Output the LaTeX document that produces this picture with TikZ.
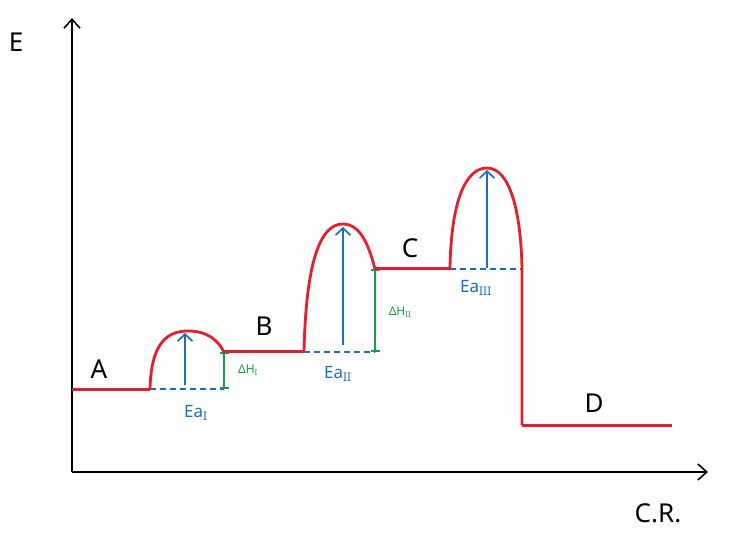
\documentclass[tikz,border=0pt]{standalone}
\usepackage{fontspec}
\setmainfont{Noto Sans}
\usetikzlibrary{arrows.meta}
\definecolor{cred}{RGB}{228,30,45}
\definecolor{cblue}{RGB}{25,110,190}
\definecolor{cgreen}{RGB}{20,160,70}
\tikzset{
  axis/.style={line width=2pt,-{Straight Barb[length=9pt,width=16pt,line width=1.6pt]}},
  level/.style={draw=cred,line width=3pt},
  hump/.style={draw=cred,line width=2.8pt},
  ea/.style={draw=cblue,line width=2pt,-{Straight Barb[length=7pt,width=15pt,line width=1.7pt]}},
  base/.style={draw=cblue,line width=1.5pt,dash pattern=on 6pt off 4pt},
  dh/.style={draw=cgreen,line width=2pt,{Bar[width=9pt]}-{Bar[width=9pt]}},
  lbl/.style={font=\fontsize{26}{28}\selectfont},
  ealbl/.style={text=cblue,font=\fontsize{17}{19}\selectfont},
  dhlbl/.style={text=cgreen,font=\fontsize{12}{14}\selectfont},
}
\begin{document}
\begin{tikzpicture}[x=1pt,y=-1pt]
\useasboundingbox (0,0) rectangle (737,540);
% axes
\coordinate (O) at (72,472);
\coordinate (Ytop) at (72,18);
\coordinate (Xend) at (708,472);
\draw[axis] (O) -- (Ytop);
\draw[axis] (O) -- (Xend);
\node[lbl] (E) at (16,42) {E};
\node[lbl] (CR) at (658,513) {C.R.};
% key points
\coordinate (A0) at (72,389);
\coordinate (A1) at (150,389);
\coordinate (P1) at (188,331);
\coordinate (B0) at (224,352);
\coordinate (B1) at (304,352);
\coordinate (P2) at (343,224);
\coordinate (C0) at (375,269);
\coordinate (C1) at (450,269);
\coordinate (P3) at (487,168);
\coordinate (D0) at (522,269);
\coordinate (D1) at (522,425);
\coordinate (D2) at (672,425);
% baselines for Ea
\coordinate (B1b) at (224,389);
\coordinate (C0b) at (375,352);
\draw[base] (A1) -- (B1b);
\draw[base] (B1) -- (C0b);
\draw[base] (C1) -- (D0);
% Ea arrows
\coordinate (e1s) at (185,385); \coordinate (e1t) at (185,333);
\coordinate (e2s) at (343,345); \coordinate (e2t) at (343,227);
\coordinate (e3s) at (487,268); \coordinate (e3t) at (487,170);
\draw[ea] (e1s) -- (e1t);
\draw[ea] (e2s) -- (e2t);
\draw[ea] (e3s) -- (e3t);
% delta H
\draw[dh] (B1b) -- (B0);
\draw[dh] (C0b) -- (C0);
% energy profile
\draw[level] (A0) -- (A1);
\draw[hump] (A1) .. controls (151,342) and (168,331) .. (P1) .. controls (207,331) and (218,340) .. (B0);
\draw[level] (B0) -- (B1);
\draw[hump] (B1) .. controls (306,262) and (320,224) .. (P2) .. controls (362,224) and (370,250) .. (C0);
\draw[level] (C0) -- (C1);
\draw[hump] (C1) .. controls (451,200) and (466,168) .. (P3) .. controls (510,168) and (521,212) .. (D0) -- (D1);
\draw[level] (D1) -- (D2);
% labels
\node[lbl] (lA) at (99,369) {A};
\node[lbl] (lB) at (264,326) {B};
\node[lbl] (lC) at (410,248) {C};
\node[lbl] (lD) at (594,403) {D};
\node[ealbl] (ea1) at (196,413) {Ea\textsubscript{I}};
\node[ealbl] (ea2) at (338,374) {Ea\textsubscript{II}};
\node[ealbl] (ea3) at (476,288) {Ea\textsubscript{III}};
\node[dhlbl] (dh1) at (248,370) {ΔH\textsubscript{I}};
\node[dhlbl] (dh2) at (400,312) {ΔH\textsubscript{II}};
\end{tikzpicture}
\end{document}
